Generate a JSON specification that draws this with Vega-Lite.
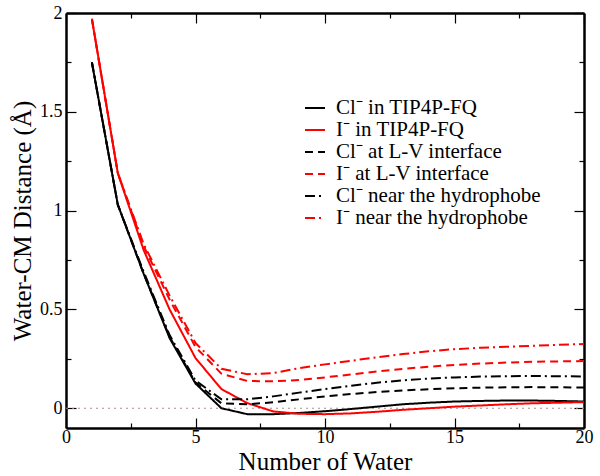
{
  "$schema": "https://vega.github.io/schema/vega-lite/v6.json",
  "autosize": "none",
  "width": 518,
  "height": 415,
  "padding": {"left": 66, "top": 13, "right": 16, "bottom": 48},
  "background": "white",
  "config": {
    "view": {"stroke": null},
    "font": "Liberation Serif",
    "style": {
      "guide-label": {"font": "Liberation Serif"},
      "guide-title": {"font": "Liberation Serif"}
    },
    "axis": {
      "domainColor": "black",
      "domainWidth": 2.5,
      "tickColor": "black",
      "tickWidth": 1.2,
      "grid": false,
      "labelFontSize": 18,
      "labelColor": "black",
      "titleFontSize": 25,
      "titleFontWeight": "normal",
      "titleColor": "black"
    },
    "axisX": {"labelFont": "Liberation Serif", "titleFont": "Liberation Serif"},
    "axisY": {"labelFont": "Liberation Serif", "titleFont": "Liberation Serif"},
    "axisBottom": {"labelFont": "Liberation Serif", "titleFont": "Liberation Serif"},
    "axisLeft": {"labelFont": "Liberation Serif", "titleFont": "Liberation Serif"},
    "legend": {
      "orient": "none",
      "legendX": 238,
      "legendY": 84,
      "padding": 0,
      "symbolType": "stroke",
      "symbolSize": 400,
      "symbolStrokeWidth": 2,
      "labelFont": "Times New Roman",
      "labelFontSize": 21,
      "labelColor": "black",
      "labelOffset": 10,
      "rowPadding": 1,
      "labelLimit": 400
    }
  },
  "datasets": {
    "curves": [
      {"n": 1, "d": 1.75, "s": "Cl⁻ in TIP4P-FQ"},
      {"n": 2, "d": 1.03, "s": "Cl⁻ in TIP4P-FQ"},
      {"n": 3, "d": 0.68, "s": "Cl⁻ in TIP4P-FQ"},
      {"n": 4, "d": 0.355, "s": "Cl⁻ in TIP4P-FQ"},
      {"n": 5, "d": 0.125, "s": "Cl⁻ in TIP4P-FQ"},
      {"n": 6, "d": 0.0, "s": "Cl⁻ in TIP4P-FQ"},
      {"n": 7, "d": -0.03, "s": "Cl⁻ in TIP4P-FQ"},
      {"n": 8, "d": -0.03, "s": "Cl⁻ in TIP4P-FQ"},
      {"n": 9, "d": -0.024, "s": "Cl⁻ in TIP4P-FQ"},
      {"n": 10, "d": -0.015, "s": "Cl⁻ in TIP4P-FQ"},
      {"n": 11, "d": -0.004, "s": "Cl⁻ in TIP4P-FQ"},
      {"n": 12, "d": 0.008, "s": "Cl⁻ in TIP4P-FQ"},
      {"n": 13, "d": 0.02, "s": "Cl⁻ in TIP4P-FQ"},
      {"n": 14, "d": 0.028, "s": "Cl⁻ in TIP4P-FQ"},
      {"n": 15, "d": 0.034, "s": "Cl⁻ in TIP4P-FQ"},
      {"n": 16, "d": 0.037, "s": "Cl⁻ in TIP4P-FQ"},
      {"n": 17, "d": 0.039, "s": "Cl⁻ in TIP4P-FQ"},
      {"n": 18, "d": 0.039, "s": "Cl⁻ in TIP4P-FQ"},
      {"n": 19, "d": 0.037, "s": "Cl⁻ in TIP4P-FQ"},
      {"n": 20, "d": 0.034, "s": "Cl⁻ in TIP4P-FQ"},

      {"n": 1, "d": 1.97, "s": "I⁻ in TIP4P-FQ"},
      {"n": 2, "d": 1.19, "s": "I⁻ in TIP4P-FQ"},
      {"n": 3, "d": 0.8, "s": "I⁻ in TIP4P-FQ"},
      {"n": 4, "d": 0.5, "s": "I⁻ in TIP4P-FQ"},
      {"n": 5, "d": 0.254, "s": "I⁻ in TIP4P-FQ"},
      {"n": 6, "d": 0.097, "s": "I⁻ in TIP4P-FQ"},
      {"n": 7, "d": 0.026, "s": "I⁻ in TIP4P-FQ"},
      {"n": 8, "d": -0.016, "s": "I⁻ in TIP4P-FQ"},
      {"n": 9, "d": -0.028, "s": "I⁻ in TIP4P-FQ"},
      {"n": 10, "d": -0.03, "s": "I⁻ in TIP4P-FQ"},
      {"n": 11, "d": -0.026, "s": "I⁻ in TIP4P-FQ"},
      {"n": 12, "d": -0.018, "s": "I⁻ in TIP4P-FQ"},
      {"n": 13, "d": -0.008, "s": "I⁻ in TIP4P-FQ"},
      {"n": 14, "d": 0.0, "s": "I⁻ in TIP4P-FQ"},
      {"n": 15, "d": 0.008, "s": "I⁻ in TIP4P-FQ"},
      {"n": 16, "d": 0.014, "s": "I⁻ in TIP4P-FQ"},
      {"n": 17, "d": 0.02, "s": "I⁻ in TIP4P-FQ"},
      {"n": 18, "d": 0.025, "s": "I⁻ in TIP4P-FQ"},
      {"n": 19, "d": 0.028, "s": "I⁻ in TIP4P-FQ"},
      {"n": 20, "d": 0.031, "s": "I⁻ in TIP4P-FQ"},

      {"n": 1, "d": 1.75, "s": "Cl⁻ at L-V interface"},
      {"n": 2, "d": 1.03, "s": "Cl⁻ at L-V interface"},
      {"n": 3, "d": 0.68, "s": "Cl⁻ at L-V interface"},
      {"n": 4, "d": 0.36, "s": "Cl⁻ at L-V interface"},
      {"n": 5, "d": 0.13, "s": "Cl⁻ at L-V interface"},
      {"n": 6, "d": 0.025, "s": "Cl⁻ at L-V interface"},
      {"n": 7, "d": 0.02, "s": "Cl⁻ at L-V interface"},
      {"n": 8, "d": 0.03, "s": "Cl⁻ at L-V interface"},
      {"n": 9, "d": 0.045, "s": "Cl⁻ at L-V interface"},
      {"n": 10, "d": 0.06, "s": "Cl⁻ at L-V interface"},
      {"n": 11, "d": 0.072, "s": "Cl⁻ at L-V interface"},
      {"n": 12, "d": 0.082, "s": "Cl⁻ at L-V interface"},
      {"n": 13, "d": 0.09, "s": "Cl⁻ at L-V interface"},
      {"n": 14, "d": 0.096, "s": "Cl⁻ at L-V interface"},
      {"n": 15, "d": 0.101, "s": "Cl⁻ at L-V interface"},
      {"n": 16, "d": 0.104, "s": "Cl⁻ at L-V interface"},
      {"n": 17, "d": 0.106, "s": "Cl⁻ at L-V interface"},
      {"n": 18, "d": 0.107, "s": "Cl⁻ at L-V interface"},
      {"n": 19, "d": 0.106, "s": "Cl⁻ at L-V interface"},
      {"n": 20, "d": 0.105, "s": "Cl⁻ at L-V interface"},

      {"n": 1, "d": 1.97, "s": "I⁻ at L-V interface"},
      {"n": 2, "d": 1.19, "s": "I⁻ at L-V interface"},
      {"n": 3, "d": 0.82, "s": "I⁻ at L-V interface"},
      {"n": 4, "d": 0.55, "s": "I⁻ at L-V interface"},
      {"n": 5, "d": 0.31, "s": "I⁻ at L-V interface"},
      {"n": 6, "d": 0.175, "s": "I⁻ at L-V interface"},
      {"n": 7, "d": 0.138, "s": "I⁻ at L-V interface"},
      {"n": 8, "d": 0.136, "s": "I⁻ at L-V interface"},
      {"n": 9, "d": 0.143, "s": "I⁻ at L-V interface"},
      {"n": 10, "d": 0.156, "s": "I⁻ at L-V interface"},
      {"n": 11, "d": 0.171, "s": "I⁻ at L-V interface"},
      {"n": 12, "d": 0.186, "s": "I⁻ at L-V interface"},
      {"n": 13, "d": 0.199, "s": "I⁻ at L-V interface"},
      {"n": 14, "d": 0.21, "s": "I⁻ at L-V interface"},
      {"n": 15, "d": 0.219, "s": "I⁻ at L-V interface"},
      {"n": 16, "d": 0.226, "s": "I⁻ at L-V interface"},
      {"n": 17, "d": 0.231, "s": "I⁻ at L-V interface"},
      {"n": 18, "d": 0.235, "s": "I⁻ at L-V interface"},
      {"n": 19, "d": 0.237, "s": "I⁻ at L-V interface"},
      {"n": 20, "d": 0.239, "s": "I⁻ at L-V interface"},

      {"n": 1, "d": 1.75, "s": "Cl⁻ near the hydrophobe"},
      {"n": 2, "d": 1.03, "s": "Cl⁻ near the hydrophobe"},
      {"n": 3, "d": 0.69, "s": "Cl⁻ near the hydrophobe"},
      {"n": 4, "d": 0.37, "s": "Cl⁻ near the hydrophobe"},
      {"n": 5, "d": 0.14, "s": "Cl⁻ near the hydrophobe"},
      {"n": 6, "d": 0.045, "s": "Cl⁻ near the hydrophobe"},
      {"n": 7, "d": 0.045, "s": "Cl⁻ near the hydrophobe"},
      {"n": 8, "d": 0.06, "s": "Cl⁻ near the hydrophobe"},
      {"n": 9, "d": 0.079, "s": "Cl⁻ near the hydrophobe"},
      {"n": 10, "d": 0.097, "s": "Cl⁻ near the hydrophobe"},
      {"n": 11, "d": 0.114, "s": "Cl⁻ near the hydrophobe"},
      {"n": 12, "d": 0.129, "s": "Cl⁻ near the hydrophobe"},
      {"n": 13, "d": 0.141, "s": "Cl⁻ near the hydrophobe"},
      {"n": 14, "d": 0.15, "s": "Cl⁻ near the hydrophobe"},
      {"n": 15, "d": 0.156, "s": "Cl⁻ near the hydrophobe"},
      {"n": 16, "d": 0.16, "s": "Cl⁻ near the hydrophobe"},
      {"n": 17, "d": 0.162, "s": "Cl⁻ near the hydrophobe"},
      {"n": 18, "d": 0.163, "s": "Cl⁻ near the hydrophobe"},
      {"n": 19, "d": 0.162, "s": "Cl⁻ near the hydrophobe"},
      {"n": 20, "d": 0.161, "s": "Cl⁻ near the hydrophobe"},

      {"n": 1, "d": 1.97, "s": "I⁻ near the hydrophobe"},
      {"n": 2, "d": 1.19, "s": "I⁻ near the hydrophobe"},
      {"n": 3, "d": 0.83, "s": "I⁻ near the hydrophobe"},
      {"n": 4, "d": 0.57, "s": "I⁻ near the hydrophobe"},
      {"n": 5, "d": 0.33, "s": "I⁻ near the hydrophobe"},
      {"n": 6, "d": 0.2, "s": "I⁻ near the hydrophobe"},
      {"n": 7, "d": 0.172, "s": "I⁻ near the hydrophobe"},
      {"n": 8, "d": 0.178, "s": "I⁻ near the hydrophobe"},
      {"n": 9, "d": 0.203, "s": "I⁻ near the hydrophobe"},
      {"n": 10, "d": 0.222, "s": "I⁻ near the hydrophobe"},
      {"n": 11, "d": 0.24, "s": "I⁻ near the hydrophobe"},
      {"n": 12, "d": 0.258, "s": "I⁻ near the hydrophobe"},
      {"n": 13, "d": 0.274, "s": "I⁻ near the hydrophobe"},
      {"n": 14, "d": 0.288, "s": "I⁻ near the hydrophobe"},
      {"n": 15, "d": 0.299, "s": "I⁻ near the hydrophobe"},
      {"n": 16, "d": 0.306, "s": "I⁻ near the hydrophobe"},
      {"n": 17, "d": 0.311, "s": "I⁻ near the hydrophobe"},
      {"n": 18, "d": 0.316, "s": "I⁻ near the hydrophobe"},
      {"n": 19, "d": 0.321, "s": "I⁻ near the hydrophobe"},
      {"n": 20, "d": 0.325, "s": "I⁻ near the hydrophobe"}
    ],
    "zero": [
      {"n": 0, "d": 0},
      {"n": 20, "d": 0}
    ]
  },
  "layer": [
    {
      "data": {"name": "zero"},
      "mark": {"type": "line", "color": "#b08c8c", "strokeWidth": 1.2, "strokeDash": [2, 4]},
      "encoding": {
        "x": {
          "field": "n", "type": "quantitative",
          "scale": {"domain": [0, 20], "nice": false, "zero": false},
          "axis": {
            "orient": "top", "title": null, "labels": false,
            "values": [0, 2.5, 5, 7.5, 10, 12.5, 15, 17.5, 20],
            "tickSize": {"condition": {"test": "datum.value % 5 === 0", "value": -10}, "value": -5}
          }
        },
        "y": {
          "field": "d", "type": "quantitative",
          "scale": {"domain": [-0.1, 2], "nice": false, "zero": false},
          "axis": {
            "orient": "right", "title": null, "labels": false,
            "values": [0, 0.25, 0.5, 0.75, 1, 1.25, 1.5, 1.75, 2],
            "tickSize": {"condition": {"test": "datum.value % 0.5 === 0", "value": -10}, "value": -5}
          }
        }
      }
    },
    {
      "data": {"name": "curves"},
      "mark": {"type": "line", "strokeWidth": 2},
      "encoding": {
        "x": {
          "field": "n", "type": "quantitative",
          "axis": {
            "orient": "bottom", "title": "Number of Water",
            "values": [0, 2.5, 5, 7.5, 10, 12.5, 15, 17.5, 20],
            "labelExpr": "datum.value % 5 === 0 ? '' + datum.value : ''",
            "tickSize": {"condition": {"test": "datum.value % 5 === 0", "value": -10}, "value": -5},
            "labelFont": "Times New Roman",
            "titleFont": "Times New Roman",
            "labelPadding": 10,
            "titlePadding": 3,
            "labelFlush": false
          }
        },
        "y": {
          "field": "d", "type": "quantitative",
          "axis": {
            "orient": "left", "title": "Water-CM Distance (Å)",
            "values": [0, 0.25, 0.5, 0.75, 1, 1.25, 1.5, 1.75, 2],
            "labelExpr": "datum.value % 0.5 === 0 ? '' + datum.value : ''",
            "tickSize": {"condition": {"test": "datum.value % 0.5 === 0", "value": -10}, "value": -5},
            "labelFont": "Times New Roman",
            "titleFont": "Times New Roman",
            "labelPadding": 14,
            "titlePadding": 4,
            "labelFlush": false
          }
        },
        "color": {
          "field": "s", "type": "nominal", "title": null,
          "scale": {
            "domain": ["Cl⁻ in TIP4P-FQ", "I⁻ in TIP4P-FQ", "Cl⁻ at L-V interface", "I⁻ at L-V interface", "Cl⁻ near the hydrophobe", "I⁻ near the hydrophobe"],
            "range": ["#000000", "#ff0000", "#000000", "#ff0000", "#000000", "#ff0000"]
          }
        },
        "strokeDash": {
          "field": "s", "type": "nominal", "title": null,
          "scale": {
            "domain": ["Cl⁻ in TIP4P-FQ", "I⁻ in TIP4P-FQ", "Cl⁻ at L-V interface", "I⁻ at L-V interface", "Cl⁻ near the hydrophobe", "I⁻ near the hydrophobe"],
            "range": [[1, 0], [1, 0], [8, 5], [8, 5], [10, 4, 2, 4], [10, 4, 2, 4]]
          }
        }
      }
    }
  ],
  "resolve": {"axis": {"x": "independent", "y": "independent"}}
}
